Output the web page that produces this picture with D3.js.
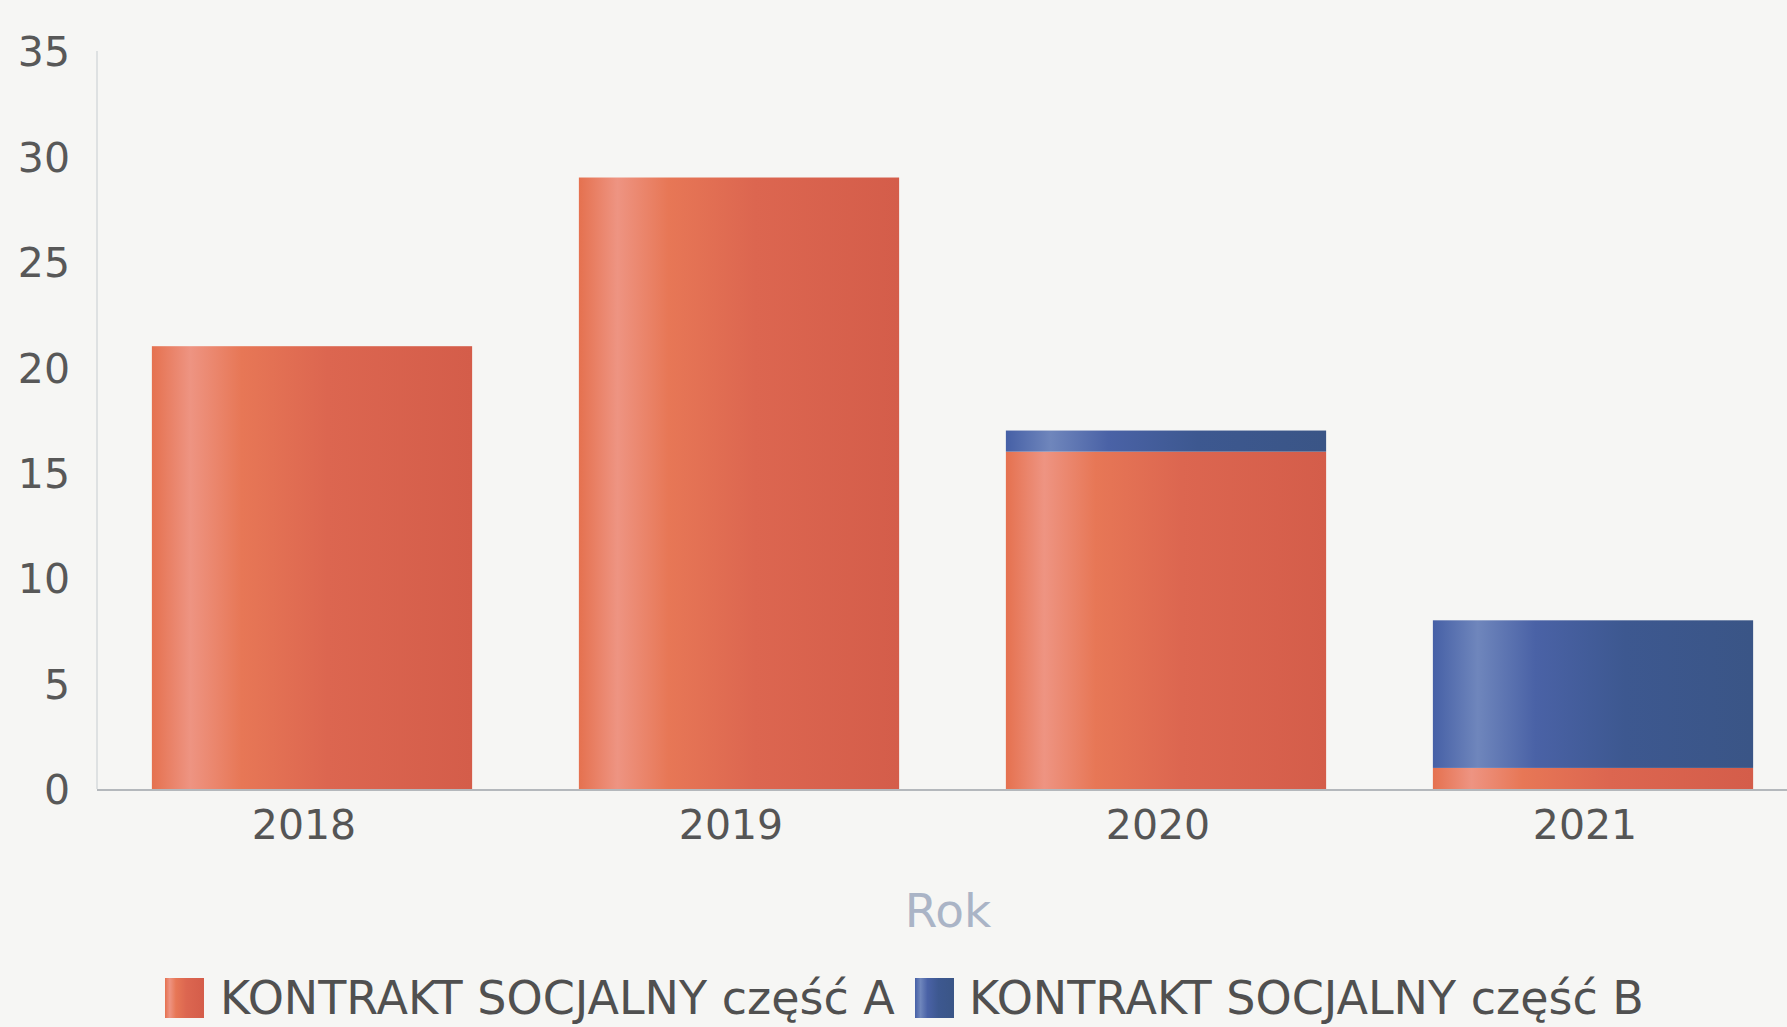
<!DOCTYPE html>
<html>
<head>
<meta charset="utf-8">
<script src="https://cdn.jsdelivr.net/npm/d3@7"></script>
<style>
  html, body { margin: 0; padding: 0; background: #f6f6f4; }
  svg { display: block; }
</style>
</head>
<body>
<svg id="chart" width="1787" height="1027"></svg>
<script>
const years = ["2018", "2019", "2020", "2021"];
const partA = [21, 29, 16, 1];
const partB = [0, 0, 1, 7];
const seriesNames = ["KONTRAKT SOCJALNY część A", "KONTRAKT SOCJALNY część B"];
const yTicks = [0, 5, 10, 15, 20, 25, 30, 35];
const xTitle = "Rok";

const W = 1787, H = 1027;
const svg = d3.select("#chart");
const FONT = "'DejaVu Sans', sans-serif";

const defs = svg.append("defs");
function grad(id, stops) {
  const g = defs.append("linearGradient").attr("id", id)
    .attr("x1", "0%").attr("x2", "100%").attr("y1", "0%").attr("y2", "0%");
  stops.forEach(s => g.append("stop").attr("offset", s[0]).attr("stop-color", s[1]));
}
grad("gA", [["0%", "#e5714f"], ["12%", "#ee9482"], ["28%", "#e77756"], ["55%", "#dc6650"], ["100%", "#d45d4a"]]);
grad("gB", [["0%", "#4660a6"], ["14%", "#6f86bc"], ["32%", "#4a62a6"], ["60%", "#3d5890"], ["100%", "#3a5586"]]);

const x = d3.scaleBand().domain(years).range([98.5, 98.5 + 4 * 427])
  .paddingInner(0.25).paddingOuter(0.125);
const y = d3.scaleLinear().domain([0, 35]).range([789, 51]);

// y axis line
svg.append("line").attr("x1", 97).attr("x2", 97).attr("y1", y(35)).attr("y2", y(0))
  .attr("stroke", "#d6dadd").attr("stroke-width", 1.5);

// y tick labels
const yAxis = d3.axisLeft(y).tickValues(yTicks).tickSize(0).tickPadding(0);
const gy = svg.append("g").attr("transform", "translate(70,0)").call(yAxis);
gy.select(".domain").remove();
gy.selectAll("text").attr("font-family", FONT).attr("font-size", 41)
  .attr("fill", "#585858").attr("dy", "0.36em");

// stacked bars
const stackData = years.map((yr, i) => ({ year: yr, A: partA[i], B: partB[i] }));
const stack = d3.stack().keys(["A", "B"])(stackData);
const fills = { A: "url(#gA)", B: "url(#gB)" };
stack.forEach(layer => {
  svg.append("g").selectAll("rect").data(layer).join("rect")
    .attr("x", d => x(d.data.year))
    .attr("width", x.bandwidth())
    .attr("y", d => y(d[1]))
    .attr("height", d => Math.max(0, y(d[0]) - y(d[1])))
    .attr("fill", fills[layer.key]);
});

svg.append("line").attr("x1", 97).attr("x2", W).attr("y1", y(0) + 1).attr("y2", y(0) + 1)
  .attr("stroke", "#b4b8bc").attr("stroke-width", 2);

// x tick labels
const xAxis = d3.axisBottom(x).tickSize(0).tickPadding(0);
const gx = svg.append("g").attr("transform", `translate(-8,${y(0) + 50})`).call(xAxis);
gx.select(".domain").remove();
gx.selectAll("text").attr("font-family", FONT).attr("font-size", 41)
  .attr("fill", "#555").attr("dy", "0");

// x title
svg.append("text").attr("x", 948).attr("y", 927).attr("text-anchor", "middle")
  .attr("font-family", FONT).attr("font-size", 47).attr("fill", "#aab4c6").text(xTitle);

// legend
const legendItems = [
  { name: seriesNames[0], fill: "url(#gA)", sx: 165, tx: 220 },
  { name: seriesNames[1], fill: "url(#gB)", sx: 915, tx: 969 }
];
const lg = svg.append("g");
legendItems.forEach(it => {
  lg.append("rect").attr("x", it.sx).attr("y", 978).attr("width", 39).attr("height", 40).attr("fill", it.fill);
  lg.append("text").attr("x", it.tx).attr("y", 1014)
    .attr("font-family", FONT).attr("font-size", 46).attr("fill", "#505050")
    .text(it.name);
});
</script>
</body>
</html>
